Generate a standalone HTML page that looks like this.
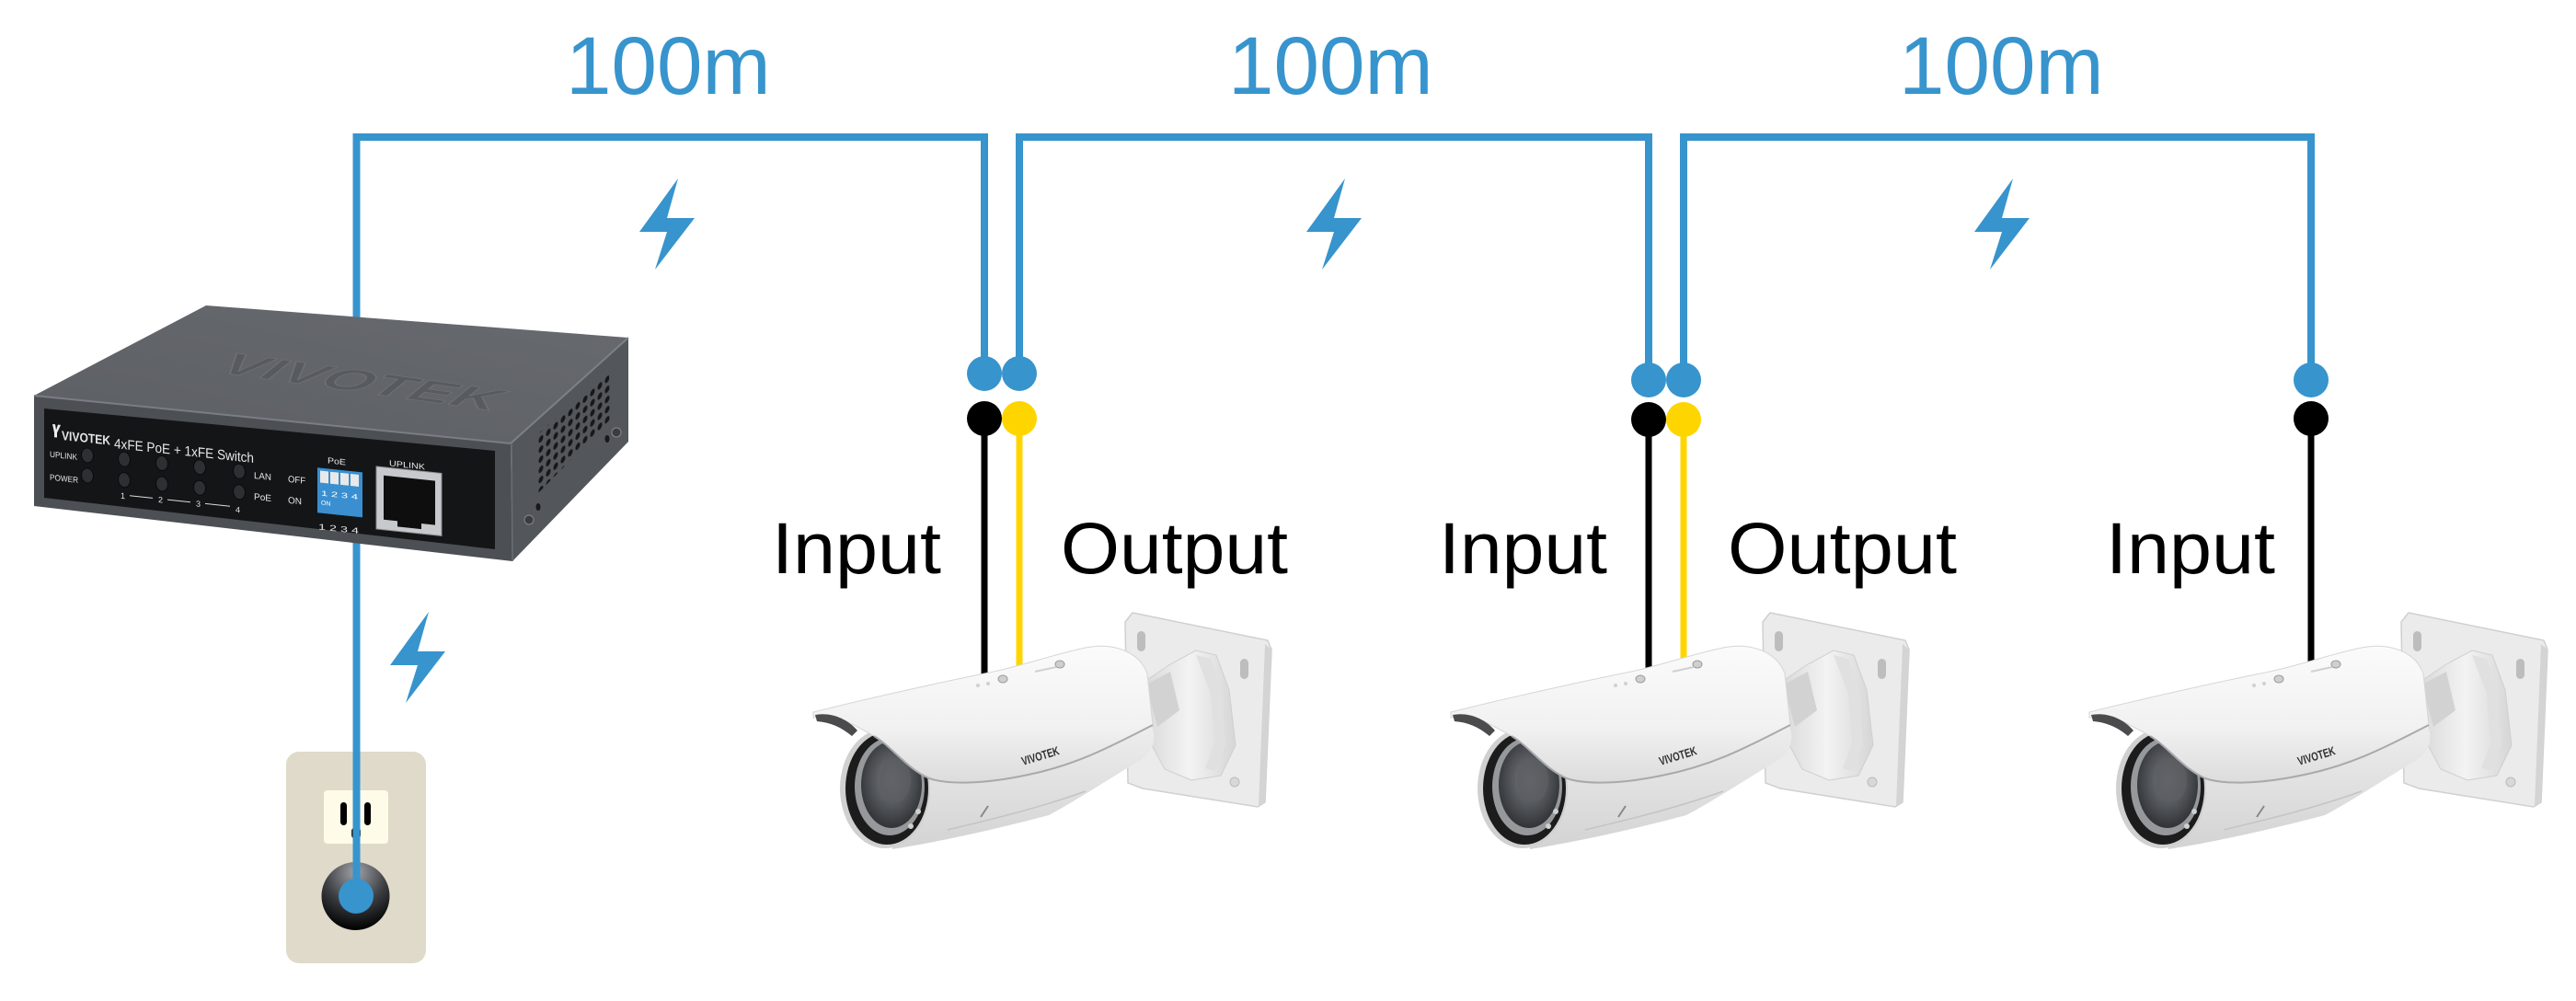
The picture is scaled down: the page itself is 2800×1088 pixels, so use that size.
<!DOCTYPE html>
<html>
<head>
<meta charset="utf-8">
<style>
  html,body{margin:0;padding:0;background:#fff;}
  svg{display:block;}
</style>
</head>
<body>
<svg width="2800" height="1088" viewBox="0 0 2800 1088" xmlns="http://www.w3.org/2000/svg" xmlns:xlink="http://www.w3.org/1999/xlink" font-family="'Liberation Sans', Arial, sans-serif">
  <defs>
    <linearGradient id="hoodG" x1="0" y1="0" x2="0" y2="1">
      <stop offset="0" stop-color="#fbfbfb"/>
      <stop offset="0.6" stop-color="#f1f1f1"/>
      <stop offset="1" stop-color="#dcdcdc"/>
    </linearGradient>
    <linearGradient id="bodyG" x1="0" y1="0" x2="0" y2="1">
      <stop offset="0" stop-color="#eeeeee"/>
      <stop offset="1" stop-color="#d3d3d3"/>
    </linearGradient>
    <linearGradient id="armG" x1="0" y1="0" x2="1" y2="0">
      <stop offset="0" stop-color="#d8d8d8"/>
      <stop offset="0.5" stop-color="#f3f3f3"/>
      <stop offset="1" stop-color="#d6d6d6"/>
    </linearGradient>
    <radialGradient id="lensG" cx="0.5" cy="0.45" r="0.6">
      <stop offset="0" stop-color="#7a7e83"/>
      <stop offset="0.6" stop-color="#4b4e52"/>
      <stop offset="1" stop-color="#2a2c2f"/>
    </radialGradient>
    <radialGradient id="plugG" cx="0.5" cy="0.15" r="0.85">
      <stop offset="0" stop-color="#a0a3a9"/>
      <stop offset="0.55" stop-color="#3c3d41"/>
      <stop offset="1" stop-color="#000"/>
    </radialGradient>
    <linearGradient id="topG" x1="0" y1="1" x2="1" y2="0">
      <stop offset="0" stop-color="#5c5f64"/>
      <stop offset="1" stop-color="#676a6f"/>
    </linearGradient>
    <pattern id="vent" width="8" height="11" patternUnits="userSpaceOnUse" patternTransform="skewY(-42)">
      <ellipse cx="4" cy="5.5" rx="2.6" ry="3.4" fill="#17181a"/>
    </pattern>
    <polygon id="bolt" points="42,0 30,43 60,43 17,99 30,58 0,58" fill="#3794cd"/>
    <g id="cam">
      <!-- wall plate -->
      <path d="M343,26 L351,16 L498,46 L502,56 L495,222 L487,227 L362,207 L346,201 Z" fill="#ebebeb" stroke="#d0d0d0" stroke-width="1.5"/>
      <path d="M495,50 L502,56 L495,222 L488,226 Z" fill="#d4d4d4"/>
      <rect x="356" y="36" width="9" height="22" rx="4.5" fill="#bdbdbd"/>
      <rect x="468" y="66" width="9" height="22" rx="4.5" fill="#bdbdbd"/>
      <circle cx="462" cy="200" r="5" fill="#d8d8d8" stroke="#bbbbbb"/>
      <!-- arm / collar -->
      <path d="M362,92 L392,72 L420,57 L442,62 L456,100 L463,160 L447,193 L415,198 L386,186 L372,160 Z" fill="url(#armG)" stroke="#cfcfcf" stroke-width="1"/>
      <path d="M366,94 L392,80 L402,122 L378,140 Z" fill="#d2d2d2"/>
      <path d="M420,62 L436,66 L448,105 L452,160 L440,188 L430,185 L440,158 L436,104 Z" fill="#e0e0e0"/>
      <!-- body -->
      <path d="M70,150 L370,135 C378,150 375,166 360,176 C320,200 290,220 260,236 C200,252 140,265 90,273 Z" fill="url(#bodyG)"/>
      <path d="M150,252 C200,240 250,228 300,210" stroke="#c4c4c4" stroke-width="1.5" fill="none"/>
      <path d="M186,238 L194,226" stroke="#888" stroke-width="2"/>
      <!-- lens face -->
      <ellipse cx="82" cy="207" rx="49" ry="65" fill="#d0d0d0"/>
      <ellipse cx="84" cy="207" rx="45" ry="61" fill="#1c1c1c"/>
      <ellipse cx="87" cy="205" rx="38" ry="53" fill="#96989b"/>
      <ellipse cx="89" cy="203" rx="33" ry="47" fill="url(#lensG)"/>
      <ellipse cx="93" cy="198" rx="17" ry="24" fill="#5b5e62" opacity="0.8"/>
      <circle cx="110" cy="248" r="3" fill="#cfcfcf"/>
      <circle cx="118" cy="232" r="3" fill="#cfcfcf"/>
      <!-- hood -->
      <path d="M4,124 C60,110 140,92 200,80 C240,71 270,60 300,54 C330,48 358,58 367,82 L373,138 C330,160 290,182 233,193 C190,202 150,203 130,196 C105,185 90,162 70,150 C58,143 48,138 40,134 C28,130 16,129 4,130 Z" fill="url(#hoodG)" stroke="#d6d6d6" stroke-width="1"/>
      <path d="M70,150 C90,162 105,185 130,196 C150,203 190,202 233,193 C290,182 330,160 373,138" stroke="#a9a9a9" stroke-width="2" fill="none"/>
      <path d="M6,127 C22,124 40,130 52,144 L46,150 C34,140 22,135 8,134 Z" fill="#4b4b4d"/>
      <!-- top details -->
      <ellipse cx="210" cy="88" rx="5" ry="4" fill="#cfcfcf" stroke="#9a9a9a"/>
      <ellipse cx="272" cy="72" rx="5" ry="4" fill="#cfcfcf" stroke="#9a9a9a"/>
      <circle cx="183" cy="95" r="2" fill="#d0d0d0"/>
      <circle cx="194" cy="93" r="2" fill="#d0d0d0"/>
      <path d="M245,80 L268,75" stroke="#d0d0d0" stroke-width="2"/>
    </g>
  </defs>

  <!-- outlet -->
  <rect x="311" y="817" width="152" height="230" rx="14" fill="#dfdac9"/>
  <rect x="352" y="859" width="70" height="58" rx="4" fill="#fefce8"/>
  <rect x="370" y="872" width="7" height="25" rx="3.5" fill="#000"/>
  <rect x="396" y="872" width="7" height="25" rx="3.5" fill="#000"/>
  <rect x="382" y="900" width="10" height="11" rx="3" fill="#222"/>
  <circle cx="386.5" cy="974" r="37" fill="url(#plugG)"/>

  <!-- blue cable lines -->
  <g fill="none" stroke="#3794cd" stroke-width="8" stroke-linejoin="miter">
    <polyline points="387.5,974 387.5,149 1070,149 1070,406"/>
    <polyline points="1108,406 1108,149 1792,149 1792,413"/>
    <polyline points="1830,413 1830,149 2512,149 2512,413"/>
  </g>
  <circle cx="387" cy="974" r="19" fill="#3794cd"/>

  <!-- switch -->
  <polygon points="224,332 683,367 555,482 37,430" fill="url(#topG)"/>
  <text transform="matrix(1.0,0.14,-0.6,0.49,232,404)" font-size="60" font-weight="bold" fill="#575a5f" stroke="#6c6f74" stroke-width="1.5" textLength="300" lengthAdjust="spacingAndGlyphs">VIVOTEK</text>
  <polygon points="683,367 683,480 557,610 555,482" fill="#53565b"/>
  <polygon points="583,473 662,405 663,456 585,536" fill="url(#vent)"/>
  <circle cx="670" cy="470" r="5" fill="#3a3c40" stroke="#85888d"/>
  <circle cx="575" cy="565" r="5" fill="#3a3c40" stroke="#85888d"/>
  <ellipse cx="660" cy="477" rx="2.5" ry="4" fill="#17181a"/>
  <ellipse cx="585" cy="551" rx="2.5" ry="4" fill="#17181a"/>
  <polygon points="37,430 555,482 557,610 37,550" fill="#4c4f53"/>
  <line x1="37" y1="430" x2="555" y2="482" stroke="#7a7d82" stroke-width="2"/>
  <line x1="555" y1="482" x2="683" y2="367" stroke="#7d8085" stroke-width="2"/>
  <line x1="556" y1="482" x2="557" y2="610" stroke="#6a6d72" stroke-width="1.5"/>
  <polygon points="48,444 538,490 538,597 48,541" fill="#141517"/>
  <g transform="matrix(1,0.105,0,1,0,0)" fill="#e6e6e6">
    <path d="M57,455 L60,455 L61,461 L63,455 L66,455 L62,464 L62,469 L59,469 L59,464 Z" fill="#eee"/>
    <text x="67" y="471" font-size="14" font-weight="bold" textLength="53" lengthAdjust="spacingAndGlyphs">VIVOTEK</text>
    <text x="124" y="474" font-size="15" textLength="152" lengthAdjust="spacingAndGlyphs">4xFE PoE + 1xFE Switch</text>
    <text x="54" y="491" font-size="9" textLength="30" lengthAdjust="spacingAndGlyphs">UPLINK</text>
    <text x="54" y="516" font-size="9" textLength="31" lengthAdjust="spacingAndGlyphs">POWER</text>
    <g fill="#2e2f32" stroke="#0a0a0a" stroke-width="1">
      <ellipse cx="95" cy="485" rx="6.5" ry="8"/>
      <ellipse cx="95" cy="507" rx="6.5" ry="8"/>
      <ellipse cx="135" cy="485" rx="6.5" ry="8"/>
      <ellipse cx="176" cy="485" rx="6.5" ry="8"/>
      <ellipse cx="217" cy="485" rx="6.5" ry="8"/>
      <ellipse cx="260" cy="485" rx="6.5" ry="8"/>
      <ellipse cx="135" cy="507.5" rx="6.5" ry="8"/>
      <ellipse cx="176" cy="507.5" rx="6.5" ry="8"/>
      <ellipse cx="217" cy="507.5" rx="6.5" ry="8"/>
      <ellipse cx="260" cy="507.5" rx="6.5" ry="8"/>
    </g>
    <text x="131" y="528" font-size="9">1</text>
    <text x="172" y="528" font-size="9">2</text>
    <text x="213" y="528" font-size="9">3</text>
    <text x="256" y="530" font-size="9">4</text>
    <g stroke="#dddddd" stroke-width="1">
      <line x1="141" y1="524" x2="166" y2="524"/>
      <line x1="182" y1="524" x2="207" y2="524"/>
      <line x1="223" y1="524" x2="250" y2="524"/>
    </g>
    <text x="276" y="491" font-size="10" textLength="19" lengthAdjust="spacingAndGlyphs">LAN</text>
    <text x="276" y="514" font-size="10" textLength="19" lengthAdjust="spacingAndGlyphs">PoE</text>
    <text x="313" y="491" font-size="10" textLength="19" lengthAdjust="spacingAndGlyphs">OFF</text>
    <text x="313" y="514" font-size="10" textLength="15" lengthAdjust="spacingAndGlyphs">ON</text>
    <text x="356" y="466" font-size="9" textLength="20" lengthAdjust="spacingAndGlyphs">PoE</text>
    <rect x="345" y="472" width="49" height="49" fill="#3a8fd0"/>
    <rect x="348" y="475" width="9" height="13" fill="#e9e9e9"/>
    <rect x="359" y="475" width="9" height="13" fill="#e9e9e9"/>
    <rect x="370" y="475" width="9" height="13" fill="#e9e9e9"/>
    <rect x="381" y="475" width="9" height="13" fill="#e9e9e9"/>
    <text x="349" y="502" font-size="8" fill="#fff" textLength="40" lengthAdjust="spacingAndGlyphs">1 2 3 4</text>
    <text x="349" y="512" font-size="7" fill="#fff">ON</text>
    <text x="346" y="539" font-size="9" textLength="44" lengthAdjust="spacingAndGlyphs">1 2 3 4</text>
    <text x="423" y="462" font-size="9" textLength="39" lengthAdjust="spacingAndGlyphs">UPLINK</text>
    <rect x="409" y="464" width="71" height="68" fill="#c7c9cc" stroke="#8a8c8f"/>
    <rect x="417" y="473" width="56" height="48" fill="#0e0e0e"/>
    <rect x="432" y="519" width="26" height="8" fill="#0e0e0e"/>
  </g>

  <!-- connector dots -->
  <g>
    <circle cx="1070" cy="406" r="19" fill="#3794cd"/>
    <circle cx="1108" cy="406" r="19" fill="#3794cd"/>
    <circle cx="1792" cy="413" r="19" fill="#3794cd"/>
    <circle cx="1830" cy="413" r="19" fill="#3794cd"/>
    <circle cx="2512" cy="413" r="19" fill="#3794cd"/>
    <circle cx="1070" cy="455" r="19" fill="#000"/>
    <circle cx="1108" cy="455" r="19" fill="#ffd500"/>
    <circle cx="1792" cy="456" r="19" fill="#000"/>
    <circle cx="1830" cy="456" r="19" fill="#ffd500"/>
    <circle cx="2512" cy="455" r="19" fill="#000"/>
  </g>
  <g stroke-width="7">
    <line x1="1070" y1="455" x2="1070" y2="738" stroke="#000"/>
    <line x1="1108" y1="455" x2="1108" y2="728" stroke="#ffd500"/>
    <line x1="1792" y1="456" x2="1792" y2="730" stroke="#000"/>
    <line x1="1830" y1="456" x2="1830" y2="720" stroke="#ffd500"/>
    <line x1="2512" y1="455" x2="2512" y2="722" stroke="#000"/>
  </g>

  <!-- cameras -->
  <use xlink:href="#cam" href="#cam" transform="translate(880,650)"/>
  <use xlink:href="#cam" href="#cam" transform="translate(1573,650)"/>
  <use xlink:href="#cam" href="#cam" transform="translate(2267,650)"/>
  <g font-size="13" font-weight="bold" fill="#2f2f2f">
    <text transform="translate(1112,832) rotate(-17)" textLength="42" lengthAdjust="spacingAndGlyphs">VIVOTEK</text>
    <text transform="translate(1805,832) rotate(-17)" textLength="42" lengthAdjust="spacingAndGlyphs">VIVOTEK</text>
    <text transform="translate(2499,832) rotate(-17)" textLength="42" lengthAdjust="spacingAndGlyphs">VIVOTEK</text>
  </g>

  <!-- labels -->
  <g font-size="89" fill="#3794cd">
    <text x="615" y="102">100m</text>
    <text x="1335" y="102">100m</text>
    <text x="2064" y="102">100m</text>
  </g>
  <g font-size="79" fill="#000">
    <text x="839" y="623" textLength="184" lengthAdjust="spacingAndGlyphs">Input</text>
    <text x="1153" y="623" textLength="247" lengthAdjust="spacingAndGlyphs">Output</text>
    <text x="1564" y="623" textLength="183" lengthAdjust="spacingAndGlyphs">Input</text>
    <text x="1878" y="623" textLength="249" lengthAdjust="spacingAndGlyphs">Output</text>
    <text x="2289" y="623" textLength="184" lengthAdjust="spacingAndGlyphs">Input</text>
  </g>

  <!-- lightning bolts -->
  <use xlink:href="#bolt" href="#bolt" transform="translate(695,194)"/>
  <use xlink:href="#bolt" href="#bolt" transform="translate(1420,194)"/>
  <use xlink:href="#bolt" href="#bolt" transform="translate(2146,194)"/>
  <use xlink:href="#bolt" href="#bolt" transform="translate(424,665)"/>
</svg>
</body>
</html>
